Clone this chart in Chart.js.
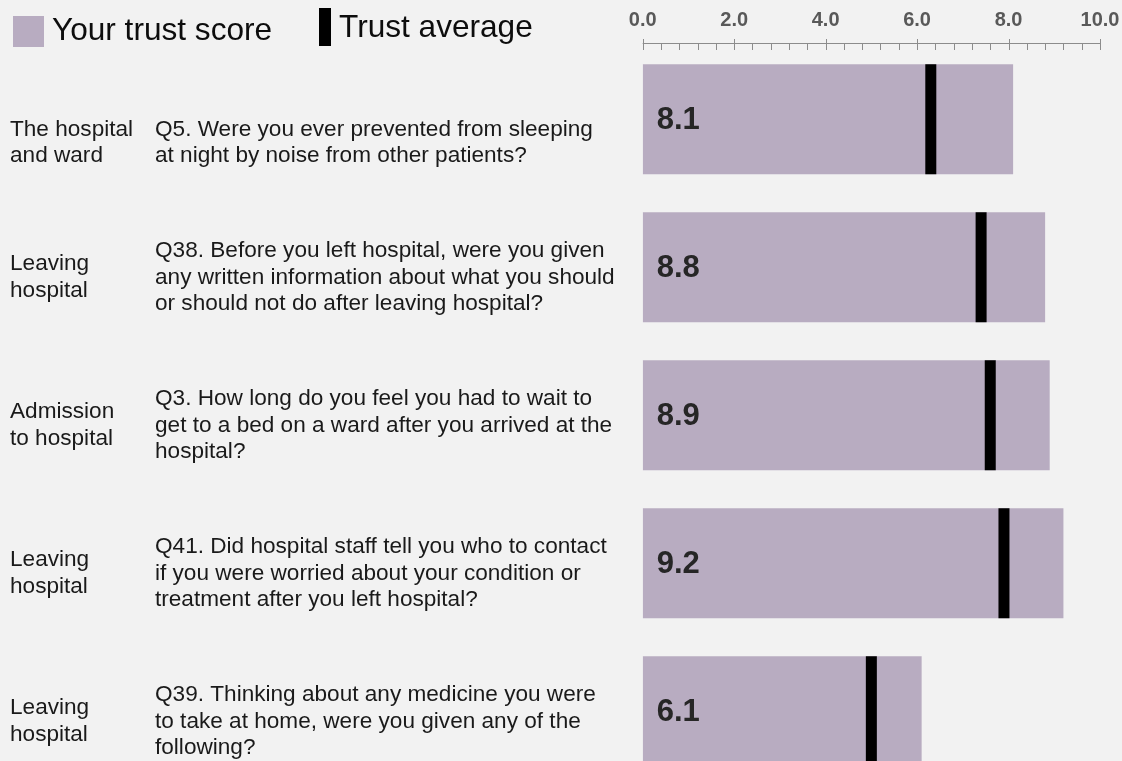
<!DOCTYPE html>
<html>
<head>
<meta charset="utf-8">
<script src="https://cdn.jsdelivr.net/npm/chart.js@4.4.1/dist/chart.umd.min.js"></script>
<style>
  html, body { margin: 0; padding: 0; background: #f2f2f2; overflow: hidden; }
  #wrap { width: 1122px; height: 790px; }
</style>
</head>
<body>
<div id="wrap"><canvas id="trustChart" width="1122" height="790"></canvas></div>
<script>
// ===== DATA =====
const questionIds = ['Q5', 'Q38', 'Q3', 'Q41', 'Q39'];
const sections = [
  ['The hospital', 'and ward'],
  ['Leaving', 'hospital'],
  ['Admission', 'to hospital'],
  ['Leaving', 'hospital'],
  ['Leaving', 'hospital'],
];
const questions = [
  ['Q5. Were you ever prevented from sleeping', 'at night by noise from other patients?'],
  ['Q38. Before you left hospital, were you given', 'any written information about what you should', 'or should not do after leaving hospital?'],
  ['Q3. How long do you feel you had to wait to', 'get to a bed on a ward after you arrived at the', 'hospital?'],
  ['Q41. Did hospital staff tell you who to contact', 'if you were worried about your condition or', 'treatment after you left hospital?'],
  ['Q39. Thinking about any medicine you were', 'to take at home, were you given any of the', 'following?'],
];
const trustScores   = [8.1, 8.8, 8.9, 9.2, 6.1];
const trustAverages = [6.3, 7.4, 7.6, 7.9, 5.0];
const axisTicks = [0, 2, 4, 6, 8, 10];
const minorStep = 0.4;

const FONT = '"Liberation Sans", Arial, sans-serif';
const SCORE_COLOR = '#b8acc1';

// ===== PLUGINS =====
// axis line with major + minor ticks along the top scale
const axisLine = {
  id: 'axisLine',
  afterDraw(chart) {
    const { ctx, scales: { x } } = chart;
    const yLine = 43.5;
    const lo = axisTicks[0], hi = axisTicks[axisTicks.length - 1];
    ctx.save();
    ctx.strokeStyle = '#8c8c8c';
    ctx.lineWidth = 1;
    ctx.beginPath();
    ctx.moveTo(x.getPixelForValue(lo), yLine);
    ctx.lineTo(x.getPixelForValue(hi), yLine);
    const n = Math.round((hi - lo) / minorStep);
    for (let k = 0; k <= n; k++) {
      const v = lo + k * minorStep;
      const px = Math.round(x.getPixelForValue(v)) + 0.5;
      const major = k % 5 === 0;
      ctx.moveTo(px, major ? 39 : yLine);
      ctx.lineTo(px, 50);
    }
    ctx.stroke();
    ctx.restore();
  }
};

// section + question text to the left of each bar
const leftText = {
  id: 'leftText',
  afterDraw(chart) {
    const { ctx, scales: { y } } = chart;
    const lh = 26.7;
    ctx.save();
    ctx.fillStyle = '#1a1a1a';
    ctx.font = '22.6px ' + FONT;
    ctx.textBaseline = 'alphabetic';
    questions.forEach((lines, i) => {
      const cy = y.getPixelForValue(i);
      const last = cy + 43;
      const mid = last - (lines.length - 1) * lh / 2;
      lines.forEach((t, k) => ctx.fillText(t, 155, last - (lines.length - 1 - k) * lh));
      const sec = sections[i];
      sec.forEach((t, k) => ctx.fillText(t, 10, mid - (sec.length - 1) * lh / 2 + k * lh));
    });
    ctx.restore();
  }
};

// score value written inside each bar
const barValues = {
  id: 'barValues',
  afterDatasetsDraw(chart) {
    const { ctx } = chart;
    const meta = chart.getDatasetMeta(0);
    ctx.save();
    ctx.fillStyle = '#262626';
    ctx.font = 'bold 31px ' + FONT;
    ctx.textBaseline = 'middle';
    meta.data.forEach((bar, i) => {
      ctx.fillText(trustScores[i].toFixed(1), bar.base + 14, bar.y + 1);
    });
    ctx.restore();
  }
};

// custom legend (square + thick bar)
const topLegend = {
  id: 'topLegend',
  afterDraw(chart) {
    const { ctx } = chart;
    const ds = chart.data.datasets;
    ctx.save();
    ctx.font = '31.6px ' + FONT;
    ctx.textBaseline = 'alphabetic';
    ctx.fillStyle = ds[0].backgroundColor;
    ctx.fillRect(13, 16, 31, 31);
    ctx.fillStyle = '#0d0d0d';
    ctx.fillText(ds[0].label, 52, 40);
    ctx.fillStyle = ds[1].pointBorderColor;
    ctx.fillRect(319, 8, 12, 38);
    ctx.fillStyle = '#0d0d0d';
    ctx.fillText(ds[1].label, 339, 37);
    ctx.restore();
  }
};

// ===== CHART =====
const chartCtx = document.getElementById('trustChart');
new Chart(chartCtx, {
  type: 'bar',
  data: {
    labels: questionIds,
    datasets: [
      {
        type: 'bar', label: 'Your trust score', data: trustScores,
        backgroundColor: SCORE_COLOR, barPercentage: 0.743, categoryPercentage: 1, order: 2
      },
      {
        type: 'line', label: 'Trust average', data: trustAverages, indexAxis: 'y',
        showLine: false, pointStyle: 'line', rotation: 90,
        pointRadius: 55, pointHoverRadius: 55, pointBorderWidth: 11, pointHoverBorderWidth: 11,
        borderColor: '#000', pointBorderColor: '#000', backgroundColor: '#000', clip: false, order: 1
      }
    ]
  },
  options: {
    indexAxis: 'y',
    responsive: false,
    animation: false,
    events: [],
    layout: { autoPadding: false, padding: { left: 642.7, right: 22, top: 0, bottom: 4.7 } },
    plugins: { legend: { display: false }, tooltip: { enabled: false } },
    scales: {
      x: {
        position: 'top', min: 0, max: 10,
        afterBuildTicks: s => { s.ticks = axisTicks.map(v => ({ value: v })); },
        afterFit: s => { s.height = 45.3; s.paddingLeft = 0; s.paddingRight = 0; },
        ticks: {
          callback: v => Number(v).toFixed(1),
          font: { family: FONT, size: 20, weight: 'bold' },
          color: '#595959', padding: 12.5, maxRotation: 0, autoSkip: false
        },
        grid: { display: false, drawTicks: false },
        border: { display: false }
      },
      y: { display: false }
    }
  },
  plugins: [axisLine, leftText, barValues, topLegend]
});
</script>
</body>
</html>
